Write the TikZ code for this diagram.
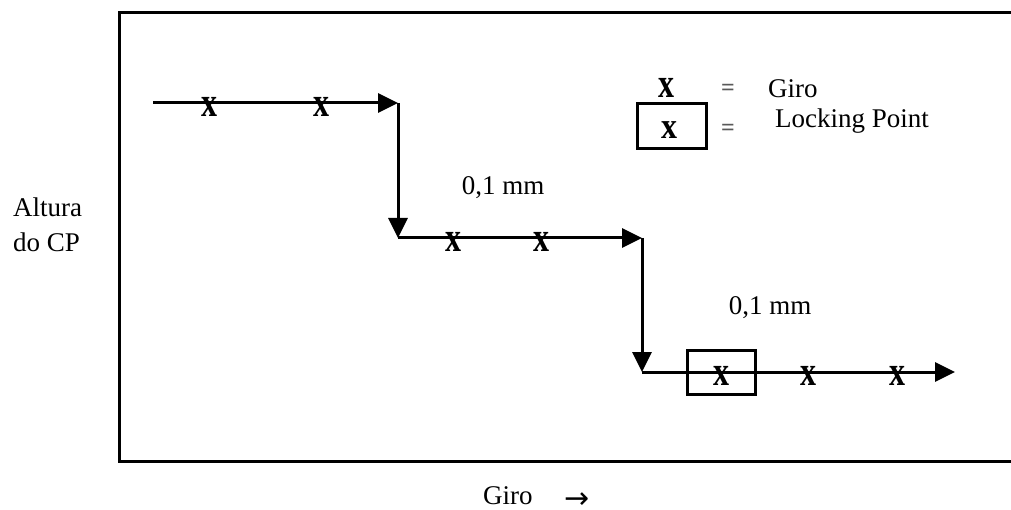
\documentclass[tikz,border=0pt]{standalone}
\usepackage{fontspec}
\setmainfont{Liberation Serif}
\newfontfamily\arrowfont{DejaVu Sans}
\usetikzlibrary{arrows.meta}
\begin{document}
\begin{tikzpicture}[x=1pt,y=-1pt,
  lbl/.style={font=\fontsize{27}{30}\selectfont, inner sep=0pt},
  eqs/.style={font=\bfseries\fontsize{24}{26}\selectfont, inner sep=0pt, text=black!65},
  gmark/.style={font=\bfseries\fontsize{32}{32}\selectfont, inner sep=0pt},
  framebox/.style={draw, line width=3pt, inner sep=0pt},
  flow/.style={line width=3pt, -{Triangle[length=20pt,width=19pt]}}]
\useasboundingbox (0,0) rectangle (1011,510);
% frame (right side falls outside the picture)
\draw[line width=3pt] (1016,13) -- (119,13) -- (119,461) -- (1016,461);
% corner points of the stepped path
\coordinate (s)  at (153,103);
\coordinate (c1) at (398,103);
\coordinate (c2) at (398,238);
\coordinate (c3) at (642,238);
\coordinate (c4) at (642,372);
\coordinate (e)  at (955,372);
\draw[flow] (s) -- (c1);
\draw[flow] (c1) -- (c2);
\draw[flow] (c2) -- (c3);
\draw[flow] (c3) -- (c4);
\draw[flow] (c4) -- (e);
% giro marks
\node[gmark] (g1) at (209,107) {\scalebox{1}[1.3]{x}};
\node[gmark] (g2) at (321,107) {\scalebox{1}[1.3]{x}};
\node[gmark] (g3) at (453,242) {\scalebox{1}[1.3]{x}};
\node[gmark] (g4) at (541,242) {\scalebox{1}[1.3]{x}};
\node[gmark] (g5) at (721,376) {\scalebox{1}[1.3]{x}};
\node[gmark] (g6) at (808,376) {\scalebox{1}[1.3]{x}};
\node[gmark] (g7) at (897,376) {\scalebox{1}[1.3]{x}};
% locking point box
\node[framebox, minimum width=68pt, minimum height=44pt] (lock) at (721,372.5) {};
% step labels
\node[lbl, anchor=base] (d1) at (503,195) {0,1 mm};
\node[lbl, anchor=base] (d2) at (770,315) {0,1 mm};
% legend
\node[gmark] (lx1) at (666,88) {\scalebox{1}[1.3]{x}};
\node[eqs] (le1) at (728,90) {=};
\node[lbl, anchor=base west] (lt1) at (768,98) {Giro};
\node[framebox, minimum width=69pt, minimum height=45pt] (lbox) at (671.5,126.5) {};
\node[gmark] (lx2) at (669,130) {\scalebox{1}[1.15]{x}};
\node[eqs] (le2) at (728,130) {=};
\node[lbl, anchor=base west] (lt2) at (775,128) {Locking Point};
% axis labels
\node[lbl, anchor=base west] (ya1) at (13,217) {Altura};
\node[lbl, anchor=base west] (ya2) at (13,252) {do CP};
\node[lbl, anchor=base west] (xa) at (483,504) {Giro};
\node[font=\arrowfont\fontsize{30}{30}\selectfont, inner sep=0pt, text height=14pt, text depth=0pt, anchor=base] (xarr) at (577,508) {→};
\end{tikzpicture}
\end{document}
